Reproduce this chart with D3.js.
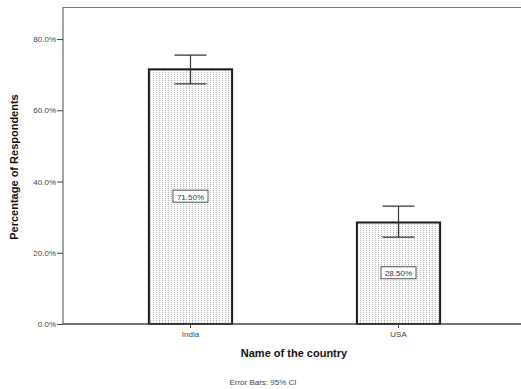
<!DOCTYPE html>
<html><head><meta charset="utf-8">
<script src="https://cdn.jsdelivr.net/npm/d3@7"></script>
<style>body{margin:0;background:#fff;}svg{display:block;font-family:Arial,"Liberation Sans",sans-serif;}</style>
</head><body>
<svg id="c" width="521" height="389"></svg>
<script>
const categories = ["India", "USA"];
const values = [0.715, 0.285];
const ciLow = [0.674, 0.244];
const ciHigh = [0.755, 0.331];
const barLabels = ["71.50%", "28.50%"];
const yTicks = [0, 0.2, 0.4, 0.6, 0.8];

(function(){
const svg = d3.select("#c");
const pL = 63, pT = 7, pB = 324, pR = 521;
const x = d3.scaleBand().domain(categories).range([pL, 526]).paddingInner(0.6).paddingOuter(0.413);
const y = d3.scaleLinear().domain([0, 0.89]).range([pB, pT]);

const defs = svg.append("defs");
const pat = defs.append("pattern").attr("id","dots").attr("patternUnits","userSpaceOnUse")
  .attr("width",3).attr("height",2);
pat.append("rect").attr("width",3).attr("height",2).attr("fill","#fbfbfb");
pat.append("rect").attr("x",0).attr("y",0).attr("width",1).attr("height",1).attr("fill","#b4b4b4");

// frame top line
svg.append("line").attr("x1",pL).attr("x2",pR).attr("y1",pT+0.5).attr("y2",pT+0.5)
  .attr("stroke","#777").attr("stroke-width",1.2);

// bars
svg.selectAll("rect.bar").data(categories).join("rect").attr("class","bar")
  .attr("x",d=>x(d)).attr("width",x.bandwidth())
  .attr("y",(d,i)=>y(values[i])).attr("height",(d,i)=>y(0)-y(values[i]))
  .attr("fill","url(#dots)").attr("stroke","#1a1a1a").attr("stroke-width",2);

// error bars
const cap = 16;
categories.forEach((c,i)=>{
  const cx = x(c)+x.bandwidth()/2;
  const g = svg.append("g").attr("stroke","#333").attr("stroke-width",1.2);
  g.append("line").attr("x1",cx).attr("x2",cx).attr("y1",y(ciHigh[i])).attr("y2",y(ciLow[i]));
  g.append("line").attr("x1",cx-cap).attr("x2",cx+cap).attr("y1",y(ciHigh[i])).attr("y2",y(ciHigh[i]));
  g.append("line").attr("x1",cx-cap).attr("x2",cx+cap).attr("y1",y(ciLow[i])).attr("y2",y(ciLow[i]));
  const my = (y(values[i])+y(0))/2;
  svg.append("rect").attr("x",cx-17.5).attr("y",my-6.5).attr("width",35).attr("height",12)
    .attr("fill","#fff").attr("stroke","#555").attr("stroke-width",1);
  svg.append("text").attr("x",cx).attr("y",my+3).attr("text-anchor","middle")
    .attr("font-size",8).attr("fill","#333").text(barLabels[i]);
});

// y axis
const yAxis = svg.append("g").attr("transform",`translate(${pL},0)`)
  .call(d3.axisLeft(y).tickValues(yTicks).tickFormat(d3.format(".1%")).tickSize(6).tickPadding(1));
yAxis.select(".domain").attr("stroke","#666").attr("stroke-width",1.2).attr("d",`M0,${pT}V${pB}`);
yAxis.selectAll(".tick line").attr("stroke","#444");
yAxis.selectAll(".tick text").attr("font-size",8).attr("fill","#444").attr("font-family","Arial,'Liberation Sans',sans-serif");

// x axis
const xAxis = svg.append("g").attr("transform",`translate(0,${pB})`)
  .call(d3.axisBottom(x).tickSize(4).tickPadding(3));
xAxis.select(".domain").attr("stroke","#444").attr("stroke-width",1.4).attr("d",`M${pL},0H${pR}`);
xAxis.selectAll(".tick line").attr("stroke","#444");
xAxis.selectAll(".tick text").attr("font-size",8).attr("fill","#444").attr("font-family","Arial,'Liberation Sans',sans-serif");

// titles
svg.append("text").attr("x",294).attr("y",357).attr("text-anchor","middle")
  .attr("font-size",11).attr("font-weight","bold").attr("fill","#111").text("Name of the country");
svg.append("text").attr("transform","translate(18,167) rotate(-90)").attr("text-anchor","middle")
  .attr("font-size",11).attr("font-weight","bold").attr("fill","#111").text("Percentage of Respondents");
svg.append("text").attr("x",263).attr("y",385).attr("text-anchor","middle")
  .attr("font-size",8).attr("fill","#444").text("Error Bars: 95% CI");
})();
</script>
</body></html>
